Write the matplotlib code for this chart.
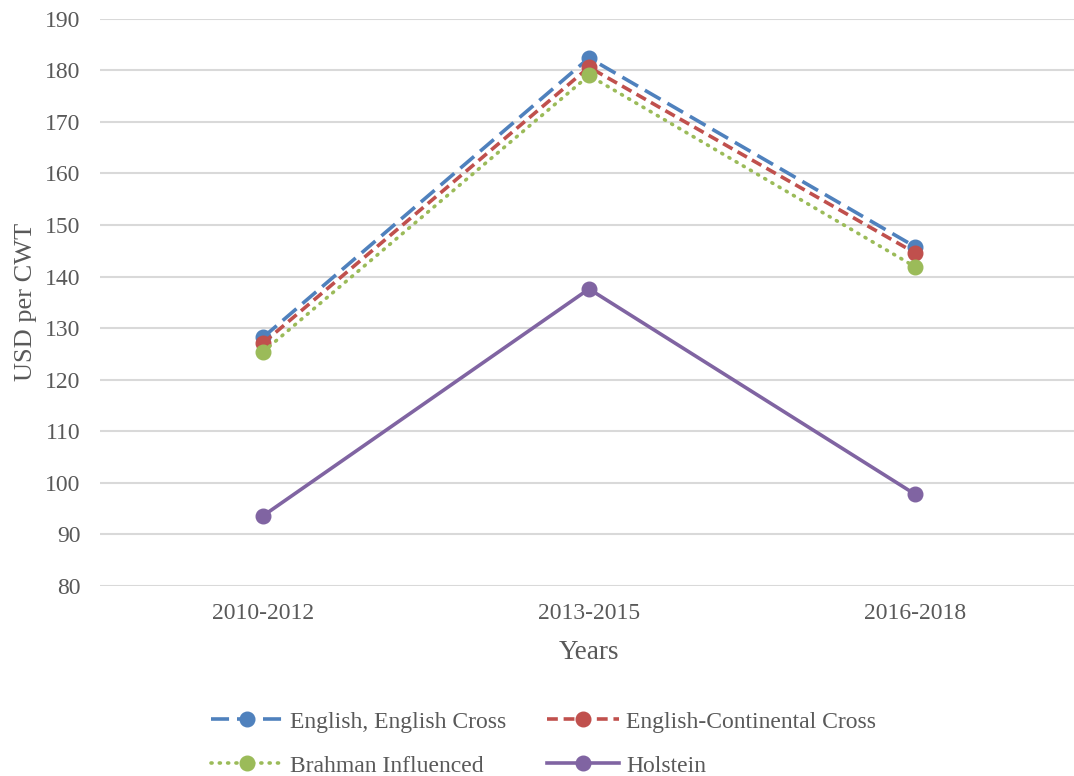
import matplotlib
matplotlib.use("Agg")
import matplotlib.pyplot as plt

periods = ["2010-2012", "2013-2015", "2016-2018"]
english = [128.2, 182.4, 145.8]
english_continental = [127.1, 180.6, 144.6]
brahman = [125.4, 179.0, 141.9]
holstein = [93.6, 137.6, 97.8]

series = [
    ("English, English Cross", english, "#4F81BD", (0, (5, 2.2)), "butt"),
    ("English-Continental Cross", english_continental, "#C0504D", (0, (3, 1.6)), "butt"),
    ("Brahman Influenced", brahman, "#9BBB59", (0, (0.3, 2.0)), "round"),
    ("Holstein", holstein, "#8064A2", "-", "butt"),
]

plt.rcParams["font.family"] = ["Liberation Serif", "DejaVu Serif"]

W, H = 1074, 776
fig = plt.figure(figsize=(W / 100, H / 100), dpi=100)
ax = fig.add_axes([100 / W, (H - 586) / H, 978 / W, (586 - 18.7) / H])

x = list(range(len(periods)))
lines = {}
for name, vals, color, ls, cap in series:
    (ln,) = ax.plot(x, vals, color=color, linestyle=ls, linewidth=2.6, marker="o",
                    markersize=10.5, label=name, dash_capstyle=cap)
    lines[name] = ln

ax.set_xlim(-0.5, 2.5)
ax.set_ylim(80, 190)
ax.set_yticks(range(80, 191, 10))
ax.set_xticks(x)
ax.set_xticklabels(periods)
ax.tick_params(axis="both", length=0, labelsize=17, labelcolor="#595959")
ax.tick_params(axis="y", pad=14)
ax.tick_params(axis="x", pad=12)
ax.grid(axis="y", color="#D9D9D9", linewidth=1.5)
ax.set_axisbelow(True)
for s in ax.spines.values():
    s.set_visible(False)

ax.set_xlabel("Years", fontsize=19.5, color="#595959", labelpad=12)
ax.set_ylabel("USD per CWT", fontsize=19, color="#595959", labelpad=6)

order = ["English, English Cross", "Brahman Influenced",
         "English-Continental Cross", "Holstein"]
leg = fig.legend([lines[n] for n in order], order, loc="center",
                 bbox_to_anchor=(0.506, 0.0415), ncol=2,
                 frameon=False, fontsize=17, handlelength=3.05,
                 columnspacing=1.75, handletextpad=0.3, labelspacing=0.95)
for t in leg.get_texts():
    t.set_color("#595959")

fig.savefig("out.png", dpi=100)
